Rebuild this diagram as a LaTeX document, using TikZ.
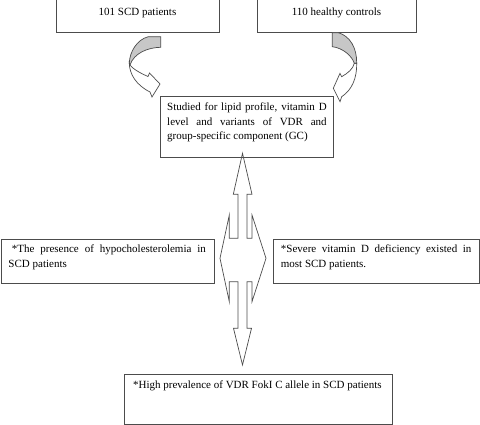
\documentclass[tikz,border=0pt]{standalone}
\usepackage{fontspec}
\setmainfont{Liberation Serif}
\definecolor{linec}{gray}{0.3}
\definecolor{grayfill}{gray}{0.78}
\begin{document}
\begin{tikzpicture}[x=1pt,y=-1pt,
  boxst/.style={draw=linec, line width=0.8pt, rectangle, inner sep=0pt, anchor=north west},
  txt/.style={inner sep=0pt, font=\fontsize{11}{14.5}\selectfont, anchor=base west},
  ctxt/.style={txt, anchor=base},
  jtxt/.style={txt, align=justify},
  shapeline/.style={draw=linec, line width=0.7pt, line join=miter},
  grayst/.style={shapeline, fill=grayfill}]
\useasboundingbox (0,0) rectangle (480,425);
% boxes
\node[boxst, minimum width=163pt, minimum height=37pt] (scd) at (56,-4.5) {};
\node[boxst, minimum width=159pt, minimum height=37pt] (hc) at (257,-4.5) {};
\node[boxst, minimum width=173pt, minimum height=61pt] (study) at (160,96) {};
\node[boxst, minimum width=213pt, minimum height=44.3pt] (hypo) at (1,239) {};
\node[boxst, minimum width=206pt, minimum height=44.3pt] (vitd) at (272.5,239) {};
\node[boxst, minimum width=268pt, minimum height=50pt] (fok) at (124,374) {};
% texts
\node[ctxt] (scdt) at (137.5,15.5) {101 SCD patients};
\node[ctxt] (hct) at (336.5,15.5) {110 healthy controls};
\node[jtxt, text width=159.5pt] (studyt) at (167,110.8) {Studied for lipid profile, vitamin D\linebreak level and variants of VDR and group-specific component (GC)};
\node[jtxt, text width=197.4pt] (hypot) at (8.3,253) {\hspace*{3.4pt}*The presence of hypocholesterolemia in\linebreak SCD patients};
\node[jtxt, text width=190.5pt] (vitdt) at (280.7,253) {*Severe vitamin D deficiency existed in\linebreak most SCD patients.};
\node[txt] (fokt) at (133,388.5) {*High prevalence of VDR FokI C allele in SCD patients};
% left curved arrow
\draw[grayst] (148.3,36.7) -- (160.7,36.7) -- (160.7,47.3)
  .. controls (148,47.5) and (134,53) .. (130,65) -- (129.3,63.3)
  .. controls (129.5,52) and (137,39.5) .. (148.3,36.7) -- cycle;
\draw[shapeline] (129.3,63.3) .. controls (129.5,74) and (136,85) .. (150,92)
  -- (152,97) -- (160,84) -- (149.5,73) -- (148,76.5)
  .. controls (140,73) and (133,69) .. (130,65) -- cycle;
% right curved arrow
\draw[grayst] (332.3,32.7) -- (338.3,32.7)
  .. controls (350,36) and (357,48) .. (356.7,63.3) -- (354.3,63.3)
  .. controls (352,56) and (343,48) .. (332.3,46.7) -- cycle;
\draw[shapeline] (356.7,63.3) .. controls (357,78) and (352,90) .. (341.7,96.7)
  -- (340,101.7) -- (333.3,88.3) -- (340,73.3) -- (341.7,76.7)
  .. controls (348,73) and (353,69) .. (354.3,63.3) -- cycle;
% central four-way arrow
\draw[shapeline] (242.5,153.3) -- (252,194.3) -- (247,194.3) -- (247,238.3)
  -- (252,238.3) -- (252,215) -- (266,258.3) -- (252,301.7) -- (252,281.7)
  -- (247,281.7) -- (247,328.3) -- (251.5,328.3) -- (242.5,365)
  -- (233.5,328.3) -- (238,328.3) -- (238,281.7) -- (229.3,281.7)
  -- (229.3,301.7) -- (220,258.3) -- (229.3,215) -- (229.3,238.3)
  -- (238,238.3) -- (238,194.3) -- (233.3,194.3) -- cycle;
\end{tikzpicture}
\end{document}
